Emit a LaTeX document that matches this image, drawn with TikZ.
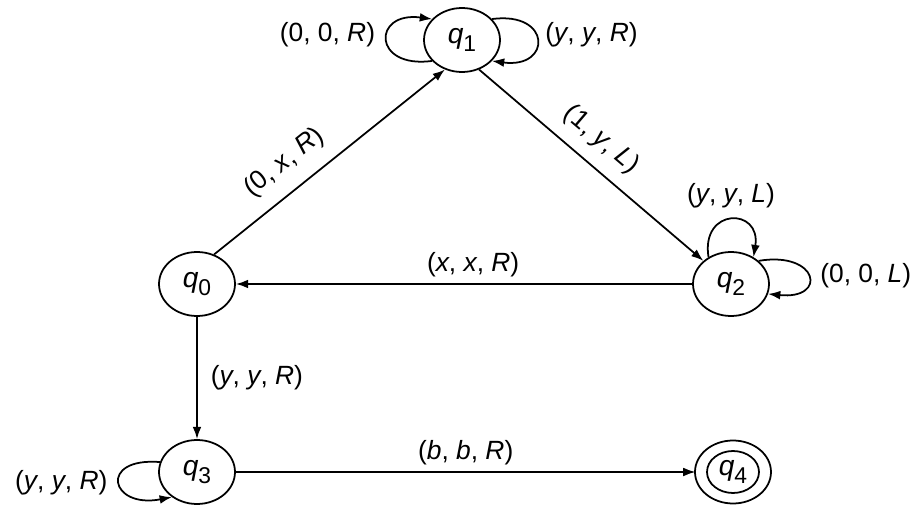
\documentclass[tikz,border=0pt]{standalone}
\usepackage{fontspec}
\setmainfont{Liberation Sans}
\usetikzlibrary{arrows.meta, shapes.geometric, positioning}
\newcommand{\qst}[1]{\textit{q}\raisebox{-0.55ex}{\fontsize{13}{13}\selectfont #1}}

\begin{document}
\begin{tikzpicture}[x=0.02cm, y=0.02cm,
  stnode/.style={ellipse, draw, line width=1pt, minimum width=1.52cm, minimum height=1.28cm, inner sep=0pt, font=\fontsize{16}{18}\selectfont},
  accept/.style={stnode, minimum width=1.04cm, minimum height=0.84cm, outer sep=0.23cm},
  arr/.style={-{Latex[length=7pt,width=5pt]}, line width=1pt},
  lbl/.style={font=\fontsize{15}{17}\selectfont}]
\useasboundingbox (0,0) rectangle (917,508);
% states
\node[stnode] (q0) at (197,224) {\qst{0}};
\node[stnode] (q1) at (462,468) {\qst{1}};
\node[stnode] (q2) at (731,224) {\qst{2}};
\node[stnode] (q3) at (197,36) {\qst{3}};
\node[accept] (q4) at (733,36) {\qst{4}};
\draw[line width=1pt] (q4.center) ellipse (38 and 31.5);
% transitions
\draw[arr] (q0.60) -- (q1.240) node[lbl, pos=0.38, sloped, above=5pt] (e01) {(0, \textit{x}, \textit{R})};
\draw[arr] (q1.-60) -- (q2.140) node[lbl, pos=0.47, sloped, above=4pt] (e12) {(1, \textit{y}, \textit{L})};
\draw[arr] (q2) -- (q0) node[lbl, pos=0.48, above] (e20) {(\textit{x}, \textit{x}, \textit{R})};
\draw[arr] (q0) -- (q3) node[lbl, midway, right=4pt] (e03) {(\textit{y}, \textit{y}, \textit{R})};
\draw[arr] (q3) -- (q4) node[lbl, pos=0.5, above] (e34) {(\textit{b}, \textit{b}, \textit{R})};
% loops
\draw[arr] (q1.215) .. controls +(-60,-8) and +(-60,8) .. (q1.145) node[lbl, midway, left=3pt, yshift=3pt] (l1a) {(0, 0, \textit{R})};
\draw[arr] (q1.35) .. controls +(60,8) and +(60,-8) .. (q1.-35) node[lbl, midway, right=1pt, yshift=3pt] (l1b) {(\textit{y}, \textit{y}, \textit{R})};
\draw[arr] (q2.130) .. controls +(-8,50) and +(8,50) .. (q2.50) node[lbl, midway, above=3pt] (l2a) {(\textit{y}, \textit{y}, \textit{L})};
\draw[arr] (q2.40) .. controls +(60,10) and +(60,-6) .. (q2.-15) node[lbl, midway, right=3pt] (l2b) {(0, 0, \textit{L})};
\draw[arr] (q3.165) .. controls +(-62,5) and +(-62,-12) .. (q3.225) node[lbl, midway, left=3pt] (l3a) {(\textit{y}, \textit{y}, \textit{R})};
\end{tikzpicture}
\end{document}
